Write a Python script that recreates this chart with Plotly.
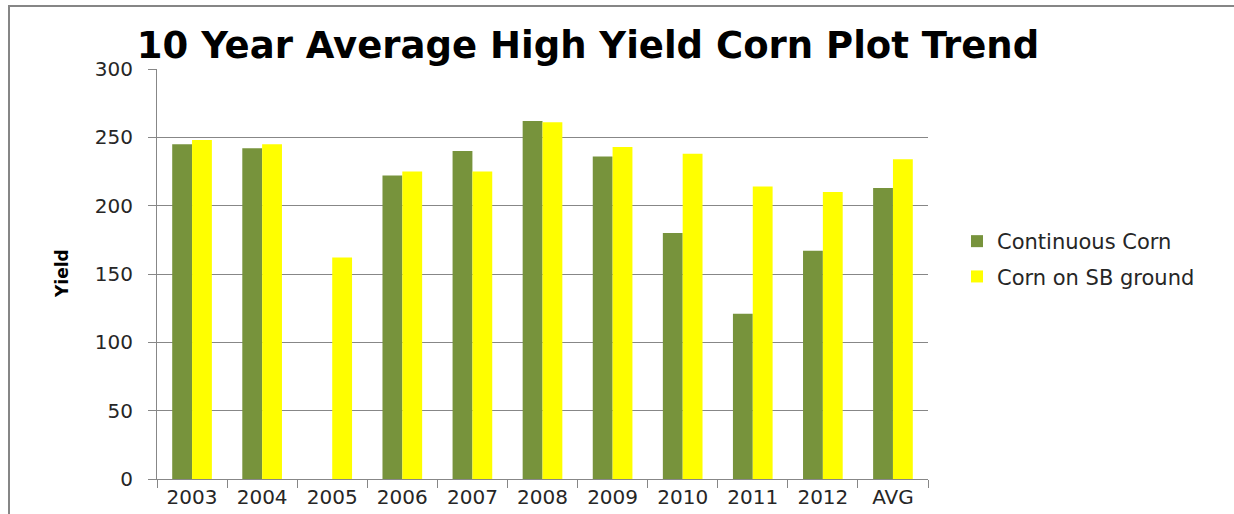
import plotly.graph_objects as go

categories = ["2003", "2004", "2005", "2006", "2007", "2008", "2009", "2010", "2011", "2012", "AVG"]
continuous_corn = [245, 242, None, 222, 240, 262, 236, 180, 121, 167, 213]
corn_on_sb = [248, 245, 162, 225, 225, 261, 243, 238, 214, 210, 234]
y_ticks = [0, 50, 100, 150, 200, 250, 300]

W, H = 1234, 514
ML, MR, MT, MB = 157, 306, 69, 35
PW, PH = W - ML - MR, H - MT - MB

def px_x(p):
    return (p - ML) / PW

def px_y(p):
    return (H - MB - p) / PH

fig = go.Figure()
fig.add_trace(go.Bar(x=categories, y=continuous_corn, name="Continuous Corn",
                     marker=dict(color="#77933C", line=dict(width=0)), legendgroup="a"))
fig.add_trace(go.Bar(x=categories, y=corn_on_sb, name="Corn on SB ground",
                     marker=dict(color="#FFFF00", line=dict(width=0)), legendgroup="b"))

grid = "#878787"
frame = dict(color="#868686", width=2)
fig.update_layout(
    width=W, height=H,
    margin=dict(l=ML, r=MR, t=MT, b=MB, autoexpand=False),
    paper_bgcolor="white", plot_bgcolor="white",
    barmode="group", bargap=0.434, bargroupgap=0,
    font=dict(family="DejaVu Sans", color="#262626"),
    title=dict(text="<b>10 Year Average High Yield Corn Plot Trend</b>",
               font=dict(family="DejaVu Sans", size=37, color="black"),
               x=588 / W, xanchor="center", xref="container",
               y=1 - 45 / H, yanchor="middle", yref="container"),
    xaxis=dict(type="category", showline=True, linecolor=grid, linewidth=1,
               ticks="outside", tickson="boundaries", ticklen=8, tickcolor=grid,
               tickfont=dict(size=20, color="#262626"), showgrid=False),
    yaxis=dict(range=[0, 300], tickvals=y_ticks, showline=True, linecolor=grid, linewidth=1,
               ticks="outside", ticklen=8, tickcolor=grid, ticklabelstandoff=11,
               showgrid=True, gridcolor=grid, gridwidth=1, zeroline=False,
               tickfont=dict(size=20, color="#262626")),
    legend=dict(x=px_x(957), xanchor="left", y=px_y(221), yanchor="top",
                font=dict(size=21, color="#262626"), tracegroupgap=5,
                bgcolor="rgba(0,0,0,0)"),
    annotations=[dict(text="<b>Yield</b>", textangle=-90, x=px_x(62), y=0.5,
                      xref="paper", yref="paper", xanchor="center", yanchor="middle",
                      showarrow=False, font=dict(family="DejaVu Sans", size=17, color="black"))],
    shapes=[
        dict(type="line", xref="paper", yref="paper",
             x0=px_x(8), y0=px_y(6), x1=px_x(W + 20), y1=px_y(6), line=frame, layer="below"),
        dict(type="line", xref="paper", yref="paper",
             x0=px_x(9), y0=px_y(5), x1=px_x(9), y1=px_y(H + 20), line=frame, layer="below"),
    ],
)

fig.write_html("out.html", config={"displayModeBar": False},
               post_script="document.body.style.margin='0';")
